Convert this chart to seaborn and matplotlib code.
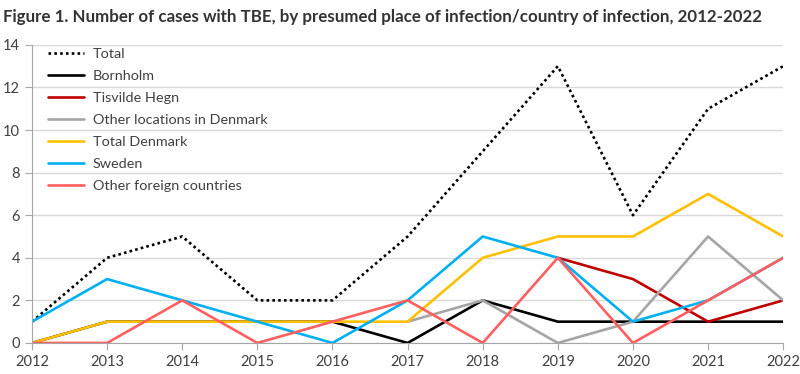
import numpy as np
import pandas as pd
import matplotlib.pyplot as plt
import seaborn as sns

nan = np.nan
years = [2012, 2013, 2014, 2015, 2016, 2017, 2018, 2019, 2020, 2021, 2022]
total = [1, 4, 5, 2, 2, 5, 9, 13, 6, 11, 13]
bornholm = [0, 1, 1, 1, 1, 0, 2, 1, 1, 1, 1]
tisvilde = [nan, nan, nan, nan, nan, nan, nan, 4, 3, 1, 2]
other_dk = [nan, nan, nan, nan, nan, 1, 2, 0, 1, 5, 2]
total_dk = [0, 1, 1, 1, 1, 1, 4, 5, 5, 7, 5]
sweden = [1, 3, 2, 1, 0, 2, 5, 4, 1, 2, 4]
other_foreign = [0, 0, 2, 0, 1, 2, 0, 4, 0, 2, 4]

series = {
    "Total": total,
    "Bornholm": bornholm,
    "Tisvilde Hegn": tisvilde,
    "Other locations in Denmark": other_dk,
    "Total Denmark": total_dk,
    "Sweden": sweden,
    "Other foreign countries": other_foreign,
}
colors = ["#000000", "#000000", "#C00000", "#A5A5A5", "#FFC000", "#00B0F0", "#FF5F5F"]

sns.set_style("white")
plt.rcParams['font.family'] = ['Lato', 'DejaVu Sans']

fig = plt.figure(figsize=(8, 3.74), dpi=100)
ax = fig.add_axes([0.04, 0.083, 0.939, 0.797])

for (name, vals), c in zip(series.items(), colors):
    df = pd.DataFrame({"year": years, "cases": vals})
    ls = (0, (1, 1.2)) if name == "Total" else "-"
    sns.lineplot(data=df, x="year", y="cases", ax=ax, color=c, linewidth=1.9,
                 linestyle=ls, label=name)

ax.set_xlim(2012, 2022)
ax.set_ylim(0, 14)
ax.set_yticks(range(0, 15, 2))
ax.set_xticks(years)
ax.set_xlabel("")
ax.set_ylabel("")
ax.grid(axis="y", color="#D9D9D9", linewidth=1)
ax.set_axisbelow(True)
for s in ["top", "right"]:
    ax.spines[s].set_visible(False)
for s in ["left", "bottom"]:
    ax.spines[s].set_color("#A6A6A6")
ax.tick_params(axis="x", bottom=True, length=5, color="#A6A6A6", labelsize=10.5, labelcolor="#404040", pad=4)
ax.tick_params(axis="y", left=True, length=5, color="#A6A6A6", labelsize=10.5, labelcolor="#404040")

leg = ax.legend(loc="upper left", frameon=False, fontsize=10.4, handlelength=2.5,
                handletextpad=0.6, labelspacing=0.68, borderpad=0,
                bbox_to_anchor=(0.021, 0.99), borderaxespad=0)
for t in leg.get_texts():
    t.set_color("#404040")

fig.text(0.004, 0.955, "Figure 1. Number of cases with TBE, by presumed place of infection/country of infection, 2012-2022",
         fontsize=12.2, fontweight="bold", color="#333333", ha="left", va="center")

fig.savefig("out.png", dpi=100)
